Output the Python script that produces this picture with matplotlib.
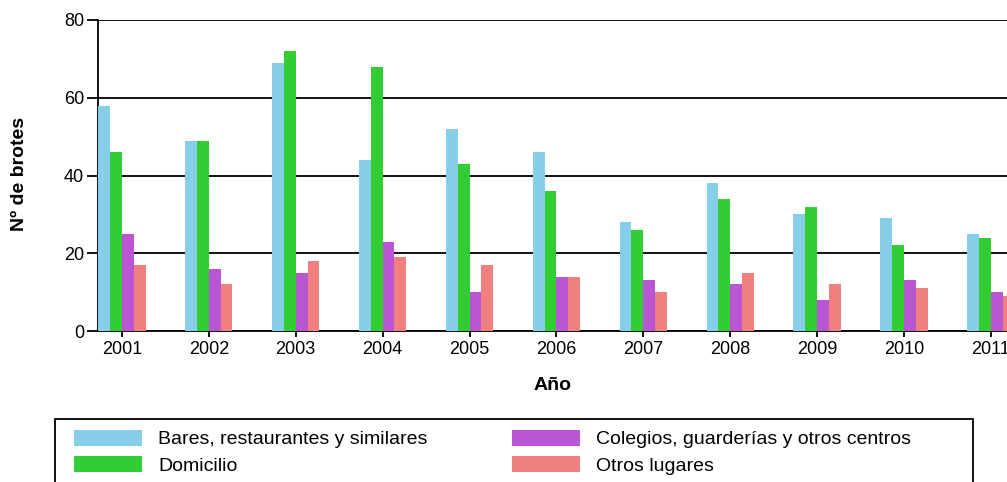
import matplotlib.pyplot as plt
import numpy as np
from matplotlib.patches import Rectangle

plt.rcParams['font.family'] = ['Liberation Sans', 'DejaVu Sans']

# datos
years = ['2001', '2002', '2003', '2004', '2005', '2006', '2007', '2008', '2009', '2010', '2011']
bares = [58, 49, 69, 44, 52, 46, 28, 38, 30, 29, 25]
domicilio = [46, 49, 72, 68, 43, 36, 26, 34, 32, 22, 24]
colegios = [25, 16, 15, 23, 10, 14, 13, 12, 8, 13, 10]
otros = [17, 12, 18, 19, 17, 14, 10, 15, 12, 11, 9]

series = [
    ('Bares, restaurantes y similares', bares, '#87CEEB'),
    ('Domicilio', domicilio, '#32CD32'),
    ('Colegios, guarderías y otros centros', colegios, '#BA55D3'),
    ('Otros lugares', otros, '#F08080'),
]

W, H = 1007, 482
fig = plt.figure(figsize=(W / 100, H / 100), dpi=100)
ax = fig.add_axes([98 / W, 1 - 331 / H, 1 - 98 / W, (331 - 20) / H])

x = np.arange(len(years))
bw = 0.136
for i, (name, vals, col) in enumerate(series):
    ax.bar(x + (i - 1.5) * bw, vals, width=bw, color=col, linewidth=0, zorder=3, label=name)

ax.set_ylim(0, 80)
ax.set_xlim(-0.275, 10.185)
ax.set_yticks([0, 20, 40, 60, 80])
ax.set_xticks(x)
ax.set_xticklabels(years)
ax.yaxis.grid(True, color='black', linewidth=1.3, zorder=1)
ax.set_axisbelow(True)
for s in ['top', 'right']:
    ax.spines[s].set_visible(False)
ax.spines['left'].set_linewidth(1.3)
ax.spines['bottom'].set_linewidth(1.3)
ax.tick_params(axis='y', length=8, width=1.3, labelsize=13, pad=2)
ax.tick_params(axis='x', length=4, width=1.3, labelsize=13, pad=3)

ax.set_xlabel('Año', fontsize=14, fontweight='bold', labelpad=14)
fig.text(20 / W, 1 - 174 / H, 'Nº de brotes', rotation=90, fontsize=14,
         fontweight='bold', ha='center', va='center')

# leyenda
fig.patches.append(Rectangle((55 / W, 1 - 520 / H), 918 / W, 101 / H,
                             transform=fig.transFigure, fill=False,
                             edgecolor='black', linewidth=1.3))
handles, labels = ax.get_legend_handles_labels()
fig.legend(handles, labels,
           loc='upper left', bbox_to_anchor=(74 / W, 1 - 430 / H), ncol=2,
           frameon=False, fontsize=14, handlelength=3.5, handleheight=0.85,
           handletextpad=0.82, columnspacing=4.35, borderpad=0, borderaxespad=0,
           labelspacing=0.4)

fig.savefig('out.png', dpi=100)
